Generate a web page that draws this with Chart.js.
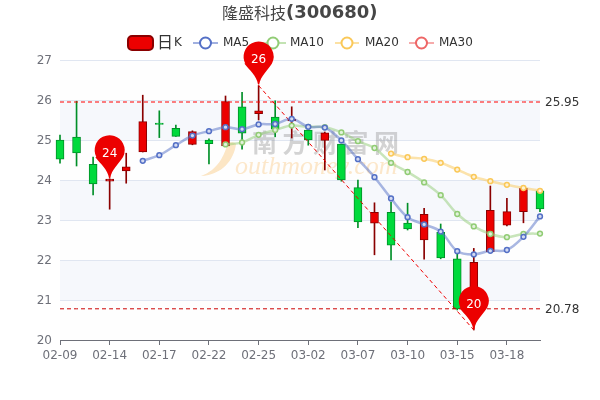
<!DOCTYPE html>
<html><head><meta charset="utf-8">
<style>html,body{margin:0;padding:0;background:#fff}#w{width:600px;height:400px}</style>
<script src="https://cdn.jsdelivr.net/npm/chart.js@4"></script></head>
<body><div id="w"><canvas id="c" width="600" height="400"></canvas></div>
<script>
const categories=['02-09','02-10','02-11','02-14','02-15','02-16','02-17','02-18','02-21','02-22','02-23','02-24','02-25','02-28','03-01','03-02','03-03','03-04','03-07','03-08','03-09','03-10','03-11','03-14','03-15','03-16','03-17','03-18','03-21','03-22'];
const opens =[25.0,25.07,24.39,23.97,24.23,24.7,25.42,25.29,24.89,25.0,24.85,25.83,25.66,25.57,25.48,25.25,24.99,24.9,23.81,22.92,23.19,22.92,22.5,22.69,22.03,20.8,22.21,22.87,23.21,23.73];
const closes=[24.52,24.68,23.9,24.02,24.33,25.46,25.39,25.09,25.21,24.91,25.96,25.17,25.73,25.27,25.52,25.0,25.18,24.0,22.95,23.19,22.37,22.78,23.14,22.05,20.78,21.94,23.24,23.21,23.79,23.28];
const highs =[25.12,25.97,24.57,24.03,24.67,26.12,25.73,25.37,25.23,25.03,26.1,26.19,26.36,25.98,25.83,25.3,25.2,24.9,24.0,23.43,23.45,23.42,23.29,22.9,22.2,22.29,23.85,23.54,23.85,23.75];
const lows  =[24.42,24.35,23.63,23.27,23.92,24.7,25.06,25.09,24.88,24.4,24.84,24.77,25.5,25.08,25.05,24.87,24.25,23.97,22.81,22.13,22.0,22.75,22.02,22.03,20.75,20.25,22.2,22.85,22.93,23.21];
const ma5 =[null,null,null,null,null,24.48,24.62,24.87,25.11,25.22,25.32,25.27,25.39,25.40,25.53,25.33,25.31,24.99,24.52,24.07,23.54,23.07,22.89,22.71,22.22,22.14,22.23,22.25,22.58,23.09];
const ma10=[null,null,null,null,null,null,null,null,null,null,24.89,24.94,25.13,25.25,25.36,25.33,25.32,25.19,24.97,24.8,24.43,24.2,23.94,23.62,23.15,22.84,22.65,22.57,22.65,22.66];
const ma20=[null,null,null,null,null,null,null,null,null,null,null,null,null,null,null,null,null,null,null,null,24.66,24.57,24.53,24.43,24.26,24.08,23.97,23.88,23.8,23.73];
const ma30=categories.map(()=>null);
const trendLine=categories.map((c,i)=>i===12?26.36:i===25?20.25:null);
const refHigh=categories.map(()=>25.95);
const refLow=categories.map(()=>20.78);
const refLabels=['25.95','20.78'];
const pinIndex=[3,12,25];
const pinLevel=[24.02,26.36,20.25];
const pinText=['24','26','20'];
const yTicks=[20,21,22,23,24,25,26,27];
const legendNames=['MA5','MA10','MA20','MA30'];
const titleName='隆盛科技';
const titleCode='(300680)';

const UP='#ec0000',UPB='#8a0000',DN='#00da3c',DNB='#008f28';
const isUp=i=>closes[i]>=opens[i];
const SANS='"DejaVu Sans"';
Chart.defaults.font.family=SANS;

const deco={id:'deco',
 beforeDraw(ch){
  const {ctx,chartArea:a,scales:{y}}=ch;
  ctx.save();
  for(let i=0;i<yTicks.length-1;i++){
    const t=y.getPixelForValue(yTicks[i+1]),b=y.getPixelForValue(yTicks[i]);
    ctx.fillStyle=i%2?'#f6f8fc':'#fefefe';
    ctx.fillRect(a.left,t,a.right-a.left,b-t);
  }
  ctx.restore();
 },
 beforeDatasetsDraw(ch){
  const {ctx}=ch;
  ctx.save();
  ctx.fillStyle='rgba(250,205,140,0.5)';
  ctx.beginPath();ctx.moveTo(201,176);
  ctx.bezierCurveTo(218,170,224,156,228,143);
  ctx.bezierCurveTo(229,142,235,142,236,144);
  ctx.bezierCurveTo(234,160,222,175,201,176);ctx.fill();
  ctx.fillStyle='rgba(120,120,120,0.32)';
  ctx.font='bold 25px "Noto Sans CJK SC"';ctx.textBaseline='alphabetic';ctx.textAlign='left';
  ['南','方','财','富','网'].forEach((s,i)=>ctx.fillText(s,252+i*30.5,152));
  ctx.fillStyle='rgba(250,200,130,0.42)';
  ctx.font='italic 26px "Liberation Serif"';
  ctx.fillText('outhmoney.com',235,174);
  ctx.restore();
 },
 afterDraw(ch){
  const {ctx,scales:{x,y}}=ch;
  ctx.save();
  ctx.textBaseline='middle';ctx.textAlign='left';ctx.fillStyle='#464646';
  ctx.font='16px "Noto Sans CJK SC"';ctx.fillText(titleName,222,13);
  ctx.font='bold 18px '+SANS;ctx.fillText(titleCode,286,13);
  ctx.lineJoin='round';
  ctx.fillStyle=UP;ctx.strokeStyle=UPB;ctx.lineWidth=2;
  ctx.beginPath();ctx.roundRect(128,36,25,14,4);ctx.fill();ctx.stroke();
  ctx.fillStyle='#333';ctx.font='16px "Noto Sans CJK SC"';ctx.fillText('日',157,42);
  ctx.font='12px '+SANS;ctx.fillText('K',174,43);
  const lx=[[193,218,223],[260,286,290],[335,359,365],[409,434,439]];
  const lc=['#5470c6','#91cc75','#fac858','#ee6666'];
  lx.forEach((p,i)=>{
    const cx=(p[0]+p[1])/2;
    ctx.strokeStyle=lc[i];ctx.globalAlpha=.55;ctx.lineWidth=2;
    ctx.beginPath();ctx.moveTo(p[0],43);ctx.lineTo(p[1],43);ctx.stroke();
    ctx.globalAlpha=1;ctx.fillStyle='#fff';ctx.beginPath();ctx.arc(cx,43,5.5,0,Math.PI*2);ctx.fill();ctx.stroke();
    ctx.fillStyle='#333';ctx.font='12px '+SANS;ctx.fillText(legendNames[i],p[2],43);
  });
  ctx.fillStyle='#333';ctx.font='12px '+SANS;
  ctx.fillText(refLabels[0],545,y.getPixelForValue(refHigh[0])+1);
  ctx.fillText(refLabels[1],545,y.getPixelForValue(refLow[0])+1);
  pinIndex.forEach((ix,k)=>{
    const px=x.getPixelForValue(ix),tip=y.getPixelForValue(pinLevel[k]),cy=tip-29;
    ctx.fillStyle='#ec0000';
    ctx.beginPath();
    ctx.arc(px,cy,15,Math.PI*0.85,Math.PI*0.15);
    ctx.bezierCurveTo(px+9,cy+14,px+2,cy+19,px+.6,tip-1);
    ctx.lineTo(px-.6,tip-1);
    ctx.bezierCurveTo(px-2,cy+19,px-9,cy+14,px-14.3,cy+7);
    ctx.closePath();ctx.fill();
    ctx.fillStyle='#fff';ctx.font='12px '+SANS;ctx.textAlign='center';
    ctx.fillText(pinText[k],px,cy+3.5);ctx.textAlign='left';
  });
  ctx.restore();
 }};

const lineDs=(label,data,color,fill)=>({type:'line',label,data,order:1,clip:false,
  borderColor:color+'80',borderWidth:2.5,tension:0.35,spanGaps:false,
  pointRadius:2.4,pointBorderWidth:1.5,pointBorderColor:color,pointBackgroundColor:fill});
const refDs=(data,color,dash)=>({type:'line',data,order:2,clip:false,borderColor:color,borderWidth:1,borderDash:dash,pointRadius:0,tension:0});

new Chart(document.getElementById('c'),{
 type:'bar',
 data:{labels:categories,datasets:[
  lineDs('MA5',ma5,'#5470c6','#d5dbf1'),
  lineDs('MA10',ma10,'#91cc75','#e3f2dc'),
  lineDs('MA20',ma20,'#fac858','#fef1d5'),
  lineDs('MA30',ma30,'#ee6666','#fbd9d9'),
  refDs(refHigh,'#ff0000',[4,3]),
  refDs(refLow,'#cc0000',[4,3]),
  {type:'line',data:trendLine,order:2,clip:false,spanGaps:true,borderColor:'#f00000',borderWidth:1,borderDash:[4,3],pointRadius:0,tension:0},
  {type:'bar',label:'body',data:categories.map((c,i)=>[opens[i],closes[i]]),order:3,clip:false,grouped:false,
   barThickness:8,borderWidth:1,borderSkipped:false,
   backgroundColor:categories.map((c,i)=>isUp(i)?UP:DN),borderColor:categories.map((c,i)=>isUp(i)?UPB:DNB)},
  {type:'bar',label:'wick',data:categories.map((c,i)=>[lows[i],highs[i]]),order:4,clip:false,grouped:false,
   barThickness:1,borderWidth:0,
   backgroundColor:categories.map((c,i)=>isUp(i)?UPB:DNB)}
 ]},
 options:{responsive:false,animation:false,events:[],
  layout:{padding:{top:60,right:60,bottom:0,left:0}},
  plugins:{legend:{display:false},title:{display:false},tooltip:{enabled:false}},
  scales:{
   x:{type:'category',offset:false,
     afterFit(s){s.height=60},
     afterBuildTicks(s){s.ticks=s.ticks.filter((t,i)=>i%3===0)},
     ticks:{autoSkip:false,maxRotation:0,minRotation:0,color:'#6e7079',font:{size:12},padding:4},
     grid:{drawOnChartArea:false,drawTicks:true,tickLength:5,color:'#6e7079',offset:false},
     border:{color:'#6e7079',width:1}},
   y:{min:20,max:27,
     afterFit(s){s.width=60},
     ticks:{stepSize:1,color:'#6e7079',font:{size:12,lineHeight:'2px'},padding:8,callback:v=>['',String(v)]},
     grid:{color:'#e0e6f1',drawTicks:false},
     border:{display:false}}
  }},
 plugins:[deco]
});
</script></body></html>
